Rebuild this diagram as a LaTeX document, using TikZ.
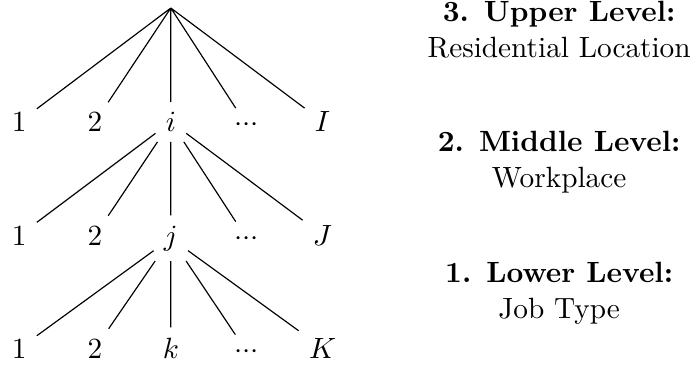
\documentclass[tikz,border=0pt]{standalone}
\usepackage{tikz}
\usetikzlibrary{positioning}
\tikzset{
	leaf/.style={anchor=base},
	lvl/.style={anchor=base, align=center}
}
\newcommand{\dd}{${\cdot}{\cdot}{\cdot}$}

\begin{document}
\begin{tikzpicture}[
	edge/.style={thin}]
	\useasboundingbox (0,0) rectangle (8.328,-4.404);
	\coordinate (root) at (2.05,-0.096);
	% upper level
	\node[leaf] (a1) at (0.23,-1.578) {$1$};
	\node[leaf] (a2) at (1.14,-1.578) {$2$};
	\node[leaf] (ai) at (2.05,-1.578) {$i$};
	\node[leaf] (adots) at (2.96,-1.578) {\dd};
	\node[leaf] (aI) at (3.87,-1.578) {$I$};
	% middle level
	\node[leaf] (b1) at (0.23,-2.94) {$1$};
	\node[leaf] (b2) at (1.14,-2.94) {$2$};
	\node[leaf] (bj) at (2.05,-2.94) {$j$};
	\node[leaf] (bdots) at (2.96,-2.94) {\dd};
	\node[leaf] (bJ) at (3.87,-2.94) {$J$};
	% lower level
	\node[leaf] (c1) at (0.23,-4.296) {$1$};
	\node[leaf] (c2) at (1.14,-4.296) {$2$};
	\node[leaf] (ck) at (2.05,-4.296) {$k$};
	\node[leaf] (cdots) at (2.96,-4.296) {\dd};
	\node[leaf] (cK) at (3.87,-4.296) {$K$};
	\draw[edge] (root) -- (a1) (root) -- (a2) (root) -- (ai) (root) -- (adots) (root) -- (aI);
	\draw[edge] (ai) -- (b1) (ai) -- (b2) (ai) -- (bj) (ai) -- (bdots) (ai) -- (bJ);
	\draw[edge] (bj) -- (c1) (bj) -- (c2) (bj) -- (ck) (bj) -- (cdots) (bj) -- (cK);
	% level names
	\node[lvl] (upper) at (6.71,-0.684) {\textbf{3. Upper Level:}\\Residential Location};
	\node[lvl] (middle) at (6.71,-2.244) {\textbf{2. Middle Level:}\\Workplace};
	\node[lvl] (lower) at (6.71,-3.816) {\textbf{1. Lower Level:}\\Job Type};
\end{tikzpicture}
\end{document}
